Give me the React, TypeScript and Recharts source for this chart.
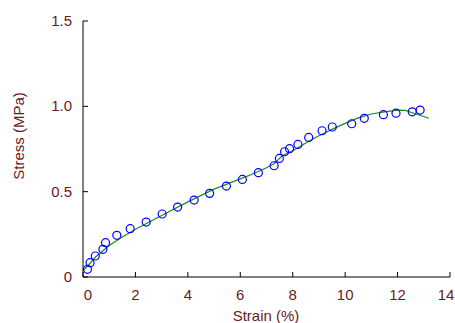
import { ScatterChart, Scatter, XAxis, YAxis } from 'recharts';

// measured points
const strain = [
  0.17, 0.27, 0.47, 0.76, 0.86, 1.29, 1.8, 2.41, 3.02, 3.61, 4.24, 4.83, 5.47, 6.08, 6.69,
  7.29, 7.49, 7.69, 7.88, 8.2, 8.61, 9.12, 9.51, 10.25, 10.73, 11.46, 11.94, 12.56, 12.86,
];
const stress = [
  0.045, 0.084, 0.123, 0.162, 0.201, 0.244, 0.283, 0.322, 0.369, 0.41, 0.451, 0.49, 0.533, 0.572,
  0.611, 0.652, 0.695, 0.734, 0.752, 0.777, 0.818, 0.857, 0.879, 0.898, 0.93, 0.951, 0.96, 0.968,
  0.978,
];

// fitted curve
const fitStrain = [
  0, 0.5, 1, 1.5, 2, 3, 4, 5, 6, 6.5, 7, 7.3, 7.6, 8, 8.5, 9, 9.5, 10, 10.5, 11, 11.5, 12, 12.3,
  12.7, 13.2,
];
const fitStress = [
  0.035, 0.12, 0.185, 0.235, 0.28, 0.36, 0.44, 0.515, 0.575, 0.605, 0.64, 0.665, 0.71, 0.74,
  0.785, 0.828, 0.865, 0.9, 0.932, 0.955, 0.968, 0.978, 0.976, 0.955, 0.93,
];

const xTicks = [0, 2, 4, 6, 8, 10, 12, 14];
const yTicks = [0, 0.5, 1, 1.5];

const points = strain.map((x, i) => ({ x, y: stress[i] }));
const fit = fitStrain.map((x, i) => ({ x, y: fitStress[i] }));

const TEXT = '#6a1a1c';
const FONT = '"Liberation Sans", Arial, sans-serif';

const XTick = (props: any) => {
  const { x, y, payload } = props;
  const v = payload.value;
  // first and last labels sit a little inside, as in the original
  const dx = v === 0 ? 5 : v === 14 ? -4 : 0;
  return (
    <g>
      <line x1={x} y1={y} x2={x} y2={y - 5} stroke="#000" />
      <text x={x + dx} y={y + 23} textAnchor="middle" fill={TEXT} fontSize={15} fontFamily={FONT}>
        {v}
      </text>
    </g>
  );
};

const YTick = (props: any) => {
  const { x, y, payload } = props;
  const v = payload.value;
  return (
    <g>
      <line x1={x} y1={y} x2={x + 5} y2={y} stroke="#000" />
      <text x={x - 11} y={y + 5} textAnchor="end" fill={TEXT} fontSize={15} fontFamily={FONT}>
        {v === 0 ? '0' : v.toFixed(1)}
      </text>
    </g>
  );
};

export default function App() {
  return (
    <div style={{ position: 'absolute', left: 0, top: 0, width: 455, height: 323, background: '#fff' }}>
      <ScatterChart width={455} height={323} margin={{ top: 21, right: 5, bottom: 0, left: 23 }}>
        <XAxis
          type="number"
          dataKey="x"
          domain={[0, 14]}
          ticks={xTicks}
          interval={0}
          height={46}
          tickSize={0}
          tickMargin={0}
          tickLine={false}
          axisLine={{ stroke: '#000' }}
          tick={<XTick />}
        />
        <YAxis
          type="number"
          dataKey="y"
          domain={[0, 1.5]}
          ticks={yTicks}
          interval={0}
          width={60}
          tickSize={0}
          tickMargin={0}
          tickLine={false}
          axisLine={{ stroke: '#000' }}
          tick={<YTick />}
        />
        <Scatter
          data={fit}
          line={{ stroke: '#1f8a1f', strokeWidth: 1.2 }}
          lineType="joint"
          shape={() => <g />}
          isAnimationActive={false}
        />
        <Scatter
          data={points}
          shape={(p: any) => (
            <circle cx={p.cx} cy={p.cy} r={4} fill="none" stroke="#0000ff" strokeWidth={1.2} />
          )}
          isAnimationActive={false}
        />
      </ScatterChart>
      <div
        style={{
          position: 'absolute',
          left: 266,
          top: 315,
          transform: 'translate(-50%, -50%)',
          whiteSpace: 'nowrap',
          color: TEXT,
          fontSize: 15,
          fontFamily: FONT,
        }}>
        Strain (%)
      </div>
      <div
        style={{
          position: 'absolute',
          left: 18,
          top: 136,
          transform: 'translate(-50%, -50%) rotate(-90deg)',
          whiteSpace: 'nowrap',
          color: TEXT,
          fontSize: 15,
          fontFamily: FONT,
        }}>
        Stress (MPa)
      </div>
    </div>
  );
}
